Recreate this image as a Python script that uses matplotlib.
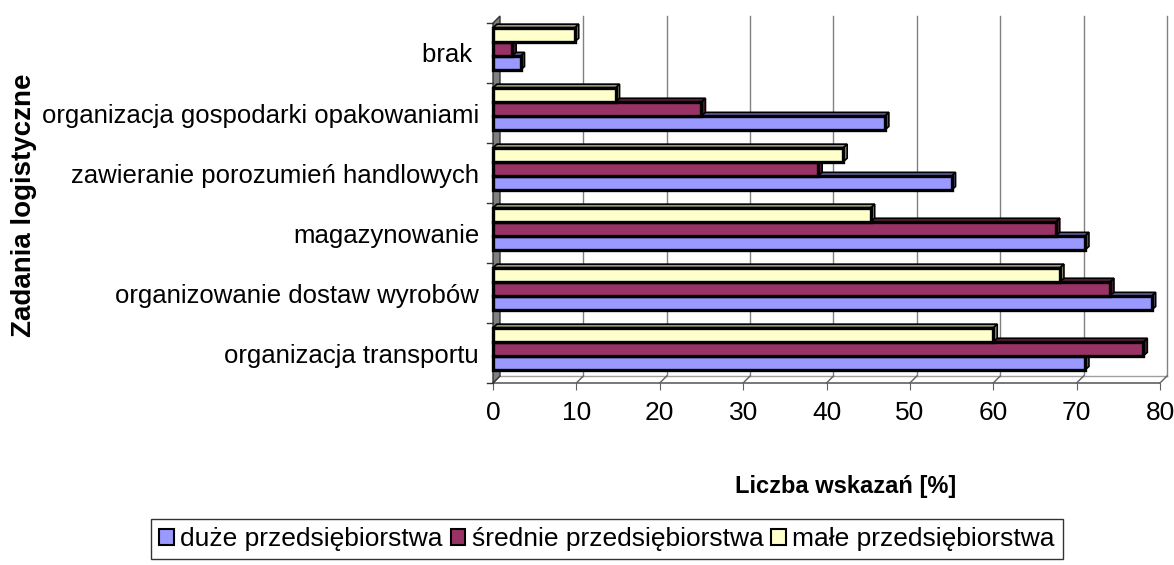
import numpy as np
import matplotlib
matplotlib.use("Agg")
import matplotlib.pyplot as plt
from matplotlib.patches import Polygon, Patch
from matplotlib.colors import to_rgb

plt.rcParams["font.family"] = ["Liberation Sans", "DejaVu Sans"]

# Data (bottom to top)
categories = [
    "organizacja transportu",
    "organizowanie dostaw wyrobów",
    "magazynowanie",
    "zawieranie porozumień handlowych",
    "organizacja gospodarki opakowaniami",
    "brak ",
]
series_names = ["duże przedsiębiorstwa", "średnie przedsiębiorstwa", "małe przedsiębiorstwa"]
duze = [71, 79, 71, 55, 47, 3.3]
srednie = [78, 74, 67.5, 39, 25, 2.3]
male = [60, 68, 45.3, 42, 14.7, 9.8]
x_ticks = [0, 10, 20, 30, 40, 50, 60, 70, 80]

colors = ["#9999FF", "#993366", "#FFFFCC"]

fig = plt.figure(figsize=(11.74, 5.65), dpi=100)
ax = fig.add_axes([493 / 1174, 1 - 383 / 565, 667 / 1174, 360 / 565])
ax.set_xlim(0, 80)
ax.set_ylim(0, 6)
for s in ax.spines.values():
    s.set_visible(False)

# 3D offsets in data units
dxw, dyw = 7 / 8.34, 7 / 60      # wall depth
dxb, dyb = 4 / 8.34, 3.5 / 60    # bar depth

# back wall gridlines and floor
for v in x_ticks[1:]:
    ax.plot([v + dxw, v + dxw], [dyw, 6 + dyw], color="#808080", lw=1, zorder=1, clip_on=False)
ax.plot([dxw, 80 + dxw], [dyw, dyw], color="#a0a0a0", lw=1, zorder=1, clip_on=False)
for v in x_ticks:
    ax.plot([v, v + dxw], [0, dyw], color="#606060", lw=1, zorder=1, clip_on=False)
ax.plot([0, 80], [0, 0], color="#606060", lw=1.2, zorder=1, clip_on=False)

# left wall
wall = Polygon([(0, 0), (dxw, dyw), (dxw, 6 + dyw), (0, 6)], closed=True,
               facecolor="#808080", edgecolor="#333333", lw=1, zorder=2, clip_on=False)
ax.add_patch(wall)
for k in range(7):
    ax.plot([-0.75, 0], [k, k], color="#333333", lw=1, zorder=2, clip_on=False)

# 3D bars
h = 0.235
off = 0.07
series = [duze, srednie, male]
z = 3
for i in range(len(categories)):
    c = i + 0.5 + off
    for j, vals in enumerate(series):
        v = vals[i]
        y0 = c + (j - 1.5) * h
        y1 = y0 + h
        dark = tuple(np.array(to_rgb(colors[j])) * 0.6)
        side = Polygon([(v, y0), (v + dxb, y0 + dyb), (v + dxb, y1 + dyb), (v, y1)],
                       closed=True, facecolor=dark, edgecolor="black", lw=1.2, zorder=z, clip_on=False)
        top = Polygon([(0, y1), (dxb, y1 + dyb), (v + dxb, y1 + dyb), (v, y1)],
                      closed=True, facecolor=dark, edgecolor="black", lw=1.2, zorder=z, clip_on=False)
        ax.add_patch(side)
        ax.add_patch(top)
        ax.barh(y0, v, height=h, align="edge", color=colors[j], edgecolor="black",
                lw=2.4, zorder=z + 1, clip_on=False)
        z += 2

ax.set_xticks(x_ticks)
ax.set_xticklabels([str(t) for t in x_ticks], fontsize=19)
ax.tick_params(axis="x", length=5, color="#606060", pad=8)
ax.set_yticks(np.arange(len(categories)) + 0.5)
ax.set_yticklabels(categories, fontsize=18.5)
ax.tick_params(axis="y", length=0, pad=10)

fig.text(24 / 1174, 1 - 205 / 565, "Zadania logistyczne", rotation=90, fontsize=20,
         fontweight="bold", ha="center", va="center")
fig.text(846 / 1174, 1 - 486 / 565, "Liczba wskazań [%]", fontsize=17,
         fontweight="bold", ha="center", va="center")

handles = [Patch(facecolor=colors[j], edgecolor="black", lw=1.5) for j in range(3)]
leg = fig.legend(handles, series_names, loc="center", bbox_to_anchor=(607 / 1174, 1 - 539 / 565),
                 ncol=3, fontsize=19, frameon=True, fancybox=False, edgecolor="black",
                 handlelength=0.55, handleheight=0.55, handletextpad=0.25, columnspacing=0.3,
                 borderpad=0.3, borderaxespad=0)
leg.get_frame().set_linewidth(1)

fig.savefig("out.png", dpi=100)
